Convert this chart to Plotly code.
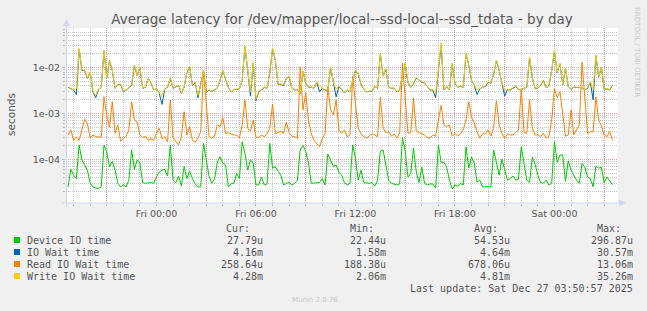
import pandas as pd
import plotly.graph_objects as go

# ---------------- data ----------------
start_time = "2025-12-25 18:40"
step = "10min"

# Write IO wait time, milliseconds
write_ms = [
    3.8, 3.5, 3.3, 3.5, 26.5, 8.9, 8.9, 5.9, 8.2, 3.0,
    2.5, 3.4, 3.8, 24.3, 6.0, 14.7, 8.9, 3.6, 4.4, 4.4,
    3.1, 3.3, 3.8, 4.2, 11.5, 6.9, 10.3, 3.6, 3.8, 5.9,
    4.8, 3.3, 3.6, 2.8, 2.5, 3.5, 3.8, 5.9, 3.6, 3.9,
    4.2, 2.8, 3.8, 8.0, 10.8, 4.2, 4.8, 2.5, 4.2, 8.9,
    2.9, 3.3, 3.1, 3.3, 3.6, 5.4, 8.9, 5.6, 3.8, 3.0,
    3.4, 3.4, 3.5, 5.4, 29.8, 8.9, 3.0, 13, 2.06, 3.1,
    3.3, 3.8, 3.6, 8.0, 27, 14.7, 4.4, 4.4, 4.2, 5.9,
    6.6, 3.6, 3.3, 3.4, 2.8, 8.5, 4.7, 3.8, 3.8, 3.6,
    4.9, 3.9, 3.6, 3.3, 3.3, 10.5, 4.9, 3.4, 4.0, 3.3,
    2.9, 3.3, 3.0, 5.4, 8.9, 7.5, 4.4, 3.5, 3.0, 3.1,
    3.1, 4.0, 3.6, 20.6, 6.9, 9.5, 3.8, 3.6, 3.6, 3.0,
    3.3, 6.9, 12.5, 4.8, 3.8, 4.6, 6.2, 5.4, 4.9, 4.7,
    4.0, 3.3, 3.3, 2.8, 8.9, 35.26, 3.3, 4.0, 3.3, 12.5,
    4.6, 3.8, 4.0, 3.8, 20.6, 11.5, 5.4, 4.2, 3.3, 3.5,
    3.8, 4.0, 4.9, 4.7, 7.5, 14.7, 8.9, 4.6, 3.3, 3.4,
    3.3, 3.6, 4.0, 3.4, 3.3, 3.6, 3.8, 17.4, 6.0, 3.6,
    3.6, 4.2, 5.4, 3.7, 4.1, 8.9, 24, 8.0, 12.5, 4.4,
    9.7, 4.0, 3.4, 3.8, 3.8, 3.8, 3.7, 3.3, 3.6, 4.9,
    3.4, 18.9, 6.5, 10.3, 3.4, 3.5, 3.3, 4.28,
]

# IO wait time, milliseconds
iowait_ms = [
    3.75, 3.45, 3.25, 2.6, 25.5, 8.7, 8.7, 5.8, 8.0, 2.95,
    2.2, 3.35, 3.75, 23.5, 5.9, 14.3, 8.7, 3.55, 4.3, 4.3,
    3.05, 3.25, 3.75, 4.1, 11.2, 6.75, 10.0, 3.55, 3.75, 5.8,
    4.7, 3.25, 3.55, 2.75, 1.58, 3.45, 3.75, 5.8, 3.55, 3.85,
    4.1, 2.75, 3.75, 7.8, 10.5, 4.1, 4.7, 2.2, 4.1, 8.7,
    2.85, 3.25, 3.05, 3.25, 3.55, 5.3, 8.7, 5.5, 3.75, 2.95,
    3.35, 3.35, 3.45, 5.3, 28.8, 8.7, 2.4, 12.7, 1.9, 3.05,
    3.25, 3.75, 3.55, 7.8, 26.2, 14.3, 4.3, 4.3, 4.1, 5.8,
    6.45, 3.55, 3.25, 3.35, 2.75, 8.3, 4.6, 3.75, 3.75, 3.55,
    4.8, 3.0, 3.55, 3.25, 3.25, 10.2, 4.8, 2.3, 3.9, 3.25,
    2.85, 3.25, 2.95, 5.3, 8.7, 7.3, 4.3, 3.45, 2.95, 3.05,
    3.05, 3.9, 3.55, 20, 6.75, 9.3, 3.75, 3.55, 3.55, 2.95,
    3.25, 6.75, 12.2, 4.7, 3.75, 4.5, 6.05, 5.3, 4.8, 4.6,
    3.9, 3.25, 3.25, 2.2, 8.7, 30.57, 3.25, 3.9, 3.25, 12.2,
    4.5, 3.75, 3.9, 3.75, 20, 11.2, 5.3, 4.1, 2.6, 3.45,
    3.75, 3.9, 4.8, 4.6, 7.3, 14.3, 8.7, 4.5, 2.4, 3.35,
    3.25, 3.55, 3.9, 3.35, 3.25, 3.55, 3.75, 16.9, 5.9, 3.55,
    3.55, 4.1, 5.3, 3.65, 4.0, 8.7, 23.3, 7.8, 12.2, 4.3,
    9.5, 3.9, 3.35, 3.75, 3.75, 3.75, 3.65, 3.25, 3.55, 4.8,
    2.0, 18.3, 6.35, 10.0, 3.35, 3.45, 3.25, 4.16,
]

# Read IO wait time, milliseconds
read_ms = [
    0.34, 0.44, 0.26, 0.31, 0.26, 0.44, 0.75, 0.61, 0.29, 0.34,
    0.31, 0.31, 0.30, 2.33, 0.9, 0.5, 1.81, 0.37, 0.56, 0.25,
    0.29, 0.32, 0.44, 1.81, 0.72, 0.65, 0.34, 0.30, 0.32, 0.26,
    0.28, 0.26, 0.37, 0.48, 0.28, 0.31, 0.24, 1.97, 0.29, 0.25,
    0.205, 0.31, 1.09, 0.34, 0.51, 0.26, 0.24, 0.29, 0.40, 8.9,
    2.0, 0.32, 0.29, 0.32, 0.56, 0.52, 0.8, 0.37, 0.38, 0.36,
    0.34, 0.34, 0.29, 0.56, 2.0, 0.48, 0.41, 0.72, 0.30, 0.30,
    0.34, 0.31, 0.36, 0.48, 1.6, 0.36, 0.38, 0.41, 0.37, 0.65,
    0.38, 0.32, 0.31, 0.29, 10.5, 1.2, 2.8, 0.72, 0.36, 0.26,
    0.22, 0.188, 0.28, 0.37, 3.8, 1.2, 0.93, 2.0, 0.44, 0.37,
    0.44, 0.31, 0.34, 6.5, 1.6, 0.48, 0.36, 0.31, 0.29, 0.32,
    0.36, 0.34, 0.31, 2.3, 0.48, 0.38, 0.40, 0.32, 0.36, 0.29,
    0.38, 12.5, 2.3, 0.37, 0.38, 2.2, 0.41, 0.38, 0.36, 0.34,
    0.30, 0.29, 0.34, 0.32, 0.72, 1.5, 0.56, 0.52, 0.56, 0.32,
    0.37, 0.32, 0.36, 0.44, 0.72, 1.81, 0.83, 0.62, 0.40, 0.29,
    0.36, 0.36, 0.44, 0.32, 0.48, 1.9, 0.56, 0.37, 0.29, 0.36,
    0.34, 0.34, 0.38, 0.44, 3.5, 0.38, 0.37, 2.0, 0.48, 0.34,
    0.34, 0.31, 0.37, 0.29, 0.32, 0.72, 3.5, 2.2, 3.0, 1.0,
    0.32, 0.34, 1.2, 0.34, 0.44, 0.56, 13.06, 2.5, 0.36, 0.40,
    0.40, 2.3, 0.72, 0.54, 0.34, 0.31, 0.41, 0.2586,
]

# Device IO time, microseconds
device_us = [
    25, 60, 45, 38, 205, 97, 75, 58, 30, 25,
    23.5, 23.3, 25, 205, 145, 69, 90, 58, 30, 25,
    27.5, 25, 35, 160, 60, 97, 82, 31, 30, 31,
    31, 30, 42, 53, 58, 60, 43, 205, 35, 31,
    43, 26, 70, 38, 55, 38, 29, 25, 25, 223,
    97, 43, 30, 37, 86, 114, 82, 75, 25, 29,
    30, 49, 38, 242, 135, 58, 97, 82, 27.5, 27.5,
    41, 27.5, 29, 223, 64, 69, 55, 45, 27.5, 30,
    31, 27.5, 30, 35, 160, 200, 150, 82, 30, 30,
    30, 31, 38, 27.5, 130, 97, 70, 75, 53, 45,
    31, 27.5, 30, 205, 105, 35, 58, 31, 30, 30,
    31, 26, 35, 150, 160, 82, 35, 30, 29, 27.5,
    29, 296.87, 145, 41, 49, 177, 53, 31, 67, 30,
    27.5, 29, 29, 23.5, 205, 86, 86, 67, 35, 22.44,
    27.5, 26, 30, 27.5, 188, 64, 112, 82, 32, 35,
    25, 25, 26, 25, 160, 82, 45, 101, 58, 35,
    38, 43, 35, 37, 188, 82, 35, 31, 112, 78,
    45, 31, 30, 35, 27.5, 30, 242, 86, 124, 124,
    33, 93, 58, 45, 35, 30, 82, 67, 41, 38,
    25, 71, 64, 67, 31, 41, 33, 27.79,
]

series_names = ["Device IO time", "IO Wait time", "Read IO Wait time", "Write IO Wait time"]
series_colors = ["#00CC00", "#0066B3", "#FF8000", "#FFCC00"]
cur_vals = ["27.79u", "4.16m", "258.64u", "4.28m"]
min_vals = ["22.44u", "1.58m", "188.38u", "2.06m"]
avg_vals = ["54.53u", "4.64m", "678.06u", "4.81m"]
max_vals = ["296.87u", "30.57m", "13.06m", "35.26m"]

x_tick_times = ["2025-12-26 00:00", "2025-12-26 06:00", "2025-12-26 12:00",
                "2025-12-26 18:00", "2025-12-27 00:00"]
x_tick_text = ["Fri 00:00", "Fri 06:00", "Fri 12:00", "Fri 18:00", "Sat 00:00"]
x_major_times = ["2025-12-25 21:00", "2025-12-26 03:00", "2025-12-26 09:00",
                 "2025-12-26 15:00", "2025-12-26 21:00", "2025-12-27 03:00"]
y_tick_vals = [1e-4, 1e-3, 1e-2]
y_tick_text = ["1e-04", "1e-03", "1e-02"]

title_text = "Average latency for /dev/mapper/local--ssd-local--ssd_tdata - by day"
last_update = "Last update: Sat Dec 27 03:50:57 2025"

# ---------------- figure ----------------
W, H = 647, 311
ML, MR, MT, MB = 66, 29, 28, 108
PW, PH = W - ML - MR, H - MT - MB


def px(x):
    return (x - ML) / PW


def py(y):
    return (H - MB - y) / PH


times = pd.date_range(start_time, periods=len(write_ms), freq=step)

fig = go.Figure()
data_sets = [
    [v * 1e-6 for v in device_us],
    [v * 1e-3 for v in iowait_ms],
    [v * 1e-3 for v in read_ms],
    [v * 1e-3 for v in write_ms],
]
for name, vals, col in zip(series_names, data_sets, series_colors):
    fig.add_trace(go.Scatter(x=times, y=vals, mode="lines", name=name,
                             line=dict(color=col, width=1), showlegend=False,
                             hoverinfo="skip"))

GRAY = "rgba(150,150,150,0.5)"
RED = "rgba(230,80,80,0.55)"
AXC = "#CFD6F8"
FONTC = "#555555"

minor_y = [m * 10.0 ** k for k in range(-5, -1) for m in range(2, 10)]

fig.update_layout(
    width=W, height=H, autosize=False,
    margin=dict(l=ML, r=MR, t=MT, b=MB, pad=0),
    paper_bgcolor="#F0F0F0", plot_bgcolor="#FFFFFF",
    showlegend=False,
    font=dict(family="DejaVu Sans", color=FONTC, size=10),
    title=dict(text=title_text, x=0.5, xanchor="center", xref="paper",
               y=1 - 19 / H, yanchor="middle", yref="container",
               font=dict(family="DejaVu Sans", size=13.5, color=FONTC)),
    xaxis=dict(
        type="date",
        range=["2025-12-25 18:32:30", "2025-12-27 03:50:00"],
        tickmode="array", tickvals=x_tick_times, ticktext=x_tick_text,
        tickfont=dict(size=9.5, color=FONTC),
        showgrid=True, gridcolor=GRAY, griddash="1px,1px", gridwidth=1,
        ticks="outside", ticklen=2, tickcolor="#B8B8B8",
        showline=False, zeroline=False,
        minor=dict(dtick=3600000, tick0="2025-12-26 00:00", showgrid=True,
                   gridcolor=GRAY, griddash="1px,1px", gridwidth=1,
                   ticks="outside", ticklen=2, tickcolor="#B8B8B8"),
    ),
    yaxis=dict(
        type="log",
        range=[-4.954, -1.133],
        tickmode="array", tickvals=y_tick_vals, ticktext=y_tick_text,
        tickfont=dict(size=9.5, color=FONTC),
        showgrid=True, gridcolor=RED, griddash="1px,1px", gridwidth=1,
        ticks="outside", ticklen=3, tickcolor="#B8B8B8",
        showline=False, zeroline=False,
        minor=dict(tickmode="array", tickvals=minor_y, showgrid=True,
                   gridcolor=GRAY, griddash="1px,1px", gridwidth=1,
                   ticks="outside", ticklen=2, tickcolor="#B8B8B8"),
    ),
)

shapes = []
for t in x_major_times:
    shapes.append(dict(type="line", xref="x", yref="paper", x0=t, x1=t, y0=0, y1=1,
                       line=dict(color=RED, width=1, dash="1px,1px"), layer="below"))
# axis lines and arrows
shapes.append(dict(type="line", xref="paper", yref="paper", x0=px(66.5), x1=px(66.5),
                   y0=py(207), y1=py(24), line=dict(color=AXC, width=1)))
shapes.append(dict(type="line", xref="paper", yref="paper", x0=px(62), x1=px(621),
                   y0=py(203), y1=py(203), line=dict(color=AXC, width=1)))
shapes.append(dict(type="path", xref="paper", yref="paper",
                   path=f"M {px(63)},{py(26)} L {px(70)},{py(26)} L {px(66.5)},{py(19)} Z",
                   fillcolor=AXC, line=dict(color=AXC, width=0)))
shapes.append(dict(type="path", xref="paper", yref="paper",
                   path=f"M {px(619)},{py(199.5)} L {px(619)},{py(206.5)} L {px(626)},{py(203)} Z",
                   fillcolor=AXC, line=dict(color=AXC, width=0)))

# legend squares
row_y = [240, 252, 264, 276]
for col, ry in zip(series_colors, row_y):
    shapes.append(dict(type="rect", xref="paper", yref="paper",
                       x0=px(14), x1=px(20), y0=py(ry + 3), y1=py(ry - 3),
                       fillcolor=col, line=dict(width=0)))
fig.update_layout(shapes=shapes)

MONO = "DejaVu Sans Mono"
ann = []


def add_text(text, x, y, anchor="left", size=10, family=MONO, color=FONTC, angle=0):
    ann.append(dict(text=text, x=px(x), y=py(y), xref="paper", yref="paper",
                    xanchor=anchor, yanchor="middle", showarrow=False,
                    textangle=angle, borderpad=0,
                    font=dict(family=family, size=size, color=color)))


add_text("Cur:", 250.5, 228, "right")
add_text("Min:", 374.5, 228, "right")
add_text("Avg:", 498.5, 228, "right")
add_text("Max:", 621.5, 228, "right")
for i, ry in enumerate(row_y):
    add_text(series_names[i], 26, ry, "left")
    add_text(cur_vals[i], 263.5, ry, "right")
    add_text(min_vals[i], 387, ry, "right")
    add_text(avg_vals[i], 510.5, ry, "right")
    add_text(max_vals[i], 634, ry, "right")
add_text(last_update, 634, 288, "right")
add_text("Munin 2.0.76", 315, 300, "center", size=7, family="DejaVu Sans", color="#C8C8C8")
add_text("seconds", 11, 115, "center", size=10.5, family="DejaVu Sans", angle=-90)
add_text("RRDTOOL / TOBI OETIKER", 637, 52, "center", size=7, family="DejaVu Sans",
         color="#C8C8C8", angle=90)
fig.update_layout(annotations=ann)

fig.write_html("out.html")
